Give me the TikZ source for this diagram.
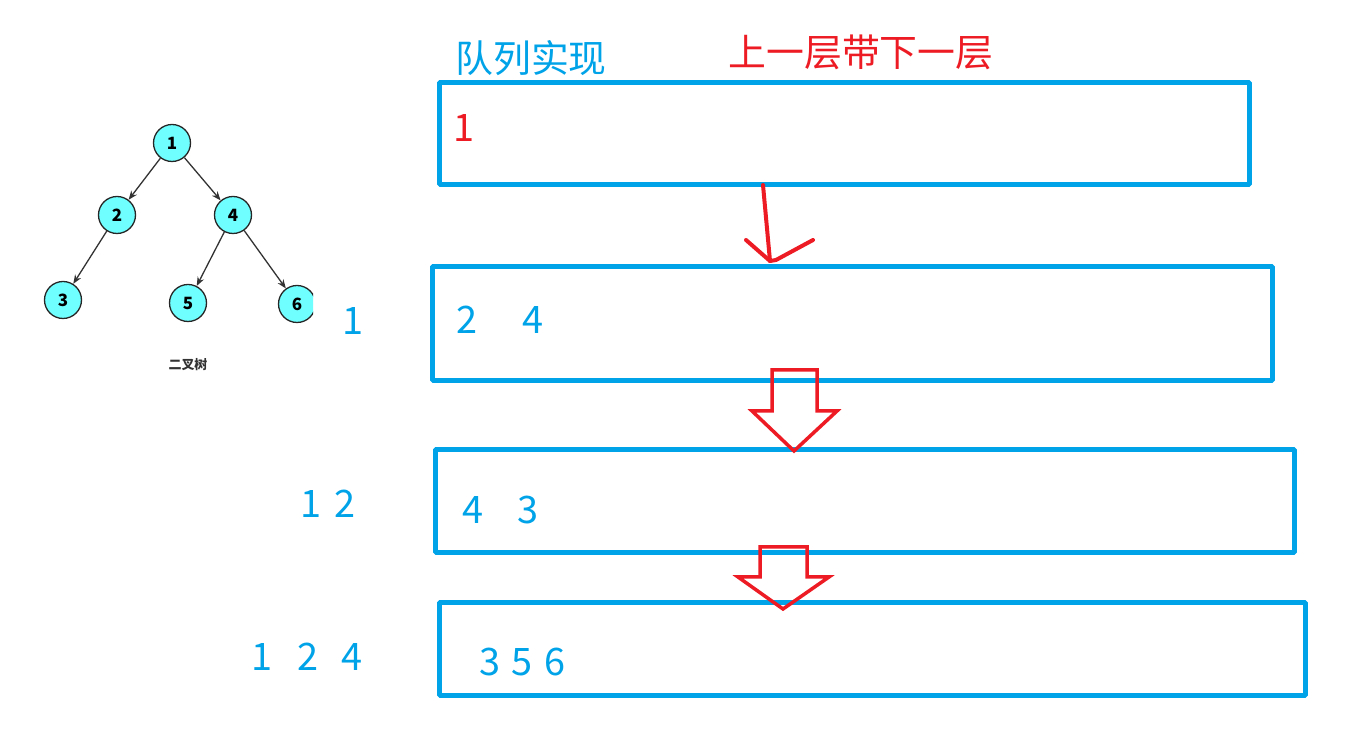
\documentclass[tikz,border=0pt]{standalone}
\usepackage{fontspec}
\setmainfont{Noto Sans CJK SC}
\usetikzlibrary{arrows.meta}
\definecolor{qblue}{RGB}{0,162,232}
\definecolor{qred}{RGB}{237,28,36}
\definecolor{tcyan}{RGB}{112,255,255}
\tikzset{
  qbox/.style={draw=qblue,line width=5bp,rectangle,inner sep=0pt},
  qnum/.style={text=qblue,font=\fontsize{38}{40}\selectfont,inner sep=0pt},
  tnode/.style={draw=black!85,fill=tcyan,circle,minimum size=37bp,inner sep=0pt,line width=1.3bp,font=\fontsize{17}{18}\selectfont\bfseries},
  tedge/.style={-{Stealth[length=9bp,width=7bp]},draw=black!80,line width=1.3bp},
  redline/.style={draw=qred,line width=4bp,line cap=round,line join=round},
}
\begin{document}
\begin{tikzpicture}[>=latex,line join=bevel,]
\useasboundingbox (0bp,0bp) rectangle (1358bp,747bp);
%%
\node (title) at (531bp,689bp) [text=qblue,font=\fontsize{38}{40}\selectfont] {队列实现};
  \node (rule) at (861bp,695bp) [text=qred,font=\fontsize{38}{40}\selectfont] {上一层带下一层};
  \node (q1) at (844.5bp,613.5bp) [qbox,minimum width=810bp,minimum height=102bp] {};
  \node (q2) at (852.5bp,423.5bp) [qbox,minimum width=840bp,minimum height=114bp] {};
  \node (q3) at (865bp,246bp) [qbox,minimum width=859bp,minimum height=103bp] {};
  \node (q4) at (872.5bp,98bp) [qbox,minimum width=866bp,minimum height=93bp] {};
  \node (a1) at (464bp,619bp) [qnum,text=qred] {1};
  \node (b2) at (467bp,427bp) [qnum] {2};
  \node (b4) at (533bp,427bp) [qnum] {4};
  \node (c4) at (473bp,237bp) [qnum] {4};
  \node (c3) at (528bp,237bp) [qnum] {3};
  \node (d3) at (490bp,85bp) [qnum] {3};
  \node (d5) at (522bp,85bp) [qnum] {5};
  \node (d6) at (555bp,85bp) [qnum] {6};
  \node (out1) at (353bp,426bp) [qnum] {1};
  \node (out2a) at (311bp,243bp) [qnum] {1};
  \node (out2b) at (345bp,243bp) [qnum] {2};
  \node (out3a) at (262bp,90bp) [qnum] {1};
  \node (out3b) at (308bp,90bp) [qnum] {2};
  \node (out3c) at (352bp,90bp) [qnum] {4};
%% tree
\begin{scope}
  \clip (0bp,0bp) rectangle (313bp,747bp);
  \node (t1) at (172bp,604bp) [tnode] {1};
  \node (t2) at (117bp,532bp) [tnode] {2};
  \node (t4) at (233bp,532bp) [tnode] {4};
  \node (t3) at (63bp,447bp) [tnode] {3};
  \node (t5) at (188bp,444bp) [tnode] {5};
  \node (t6) at (297bp,443bp) [tnode] {6};
  \draw [tedge] (t1) -- (t2);
  \draw [tedge] (t1) -- (t4);
  \draw [tedge] (t2) -- (t3);
  \draw [tedge] (t4) -- (t5);
  \draw [tedge] (t4) -- (t6);
\end{scope}
  \node (cap) at (188bp,382bp) [text=black!80,font=\fontsize{13}{14}\selectfont\bfseries] {二叉树};
%% red arrows
  \coordinate (tail) at (763bp,562bp);
  \coordinate (tip) at (770bp,486bp);
  \coordinate (hl) at (746bp,507bp);
  \coordinate (hr) at (813bp,507bp);
  \draw [redline] (tail) -- (tip);
  \draw [redline] (hl) -- (tip) -- (776bp,487bp) -- (hr);
  \draw [redline,line width=3.5bp,line join=miter] (772bp,377bp) -- (817bp,377bp) -- (817bp,336bp) -- (837bp,336bp)
    -- (794bp,296bp) -- (752bp,336bp) -- (772bp,336bp) -- cycle;
  \draw [redline,line width=3.5bp,line join=miter] (760bp,200bp) -- (807bp,200bp) -- (807bp,170bp) -- (829bp,170bp)
    -- (783bp,138bp) -- (738bp,170bp) -- (760bp,170bp) -- cycle;
%
\end{tikzpicture}
\end{document}
